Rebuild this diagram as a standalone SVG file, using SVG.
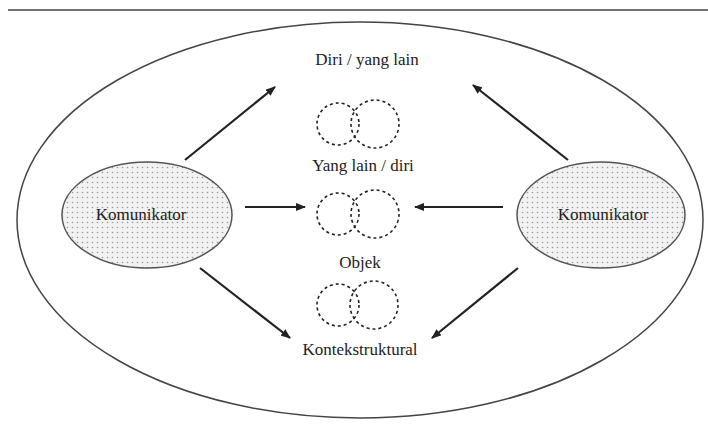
<svg xmlns="http://www.w3.org/2000/svg" width="708" height="429" viewBox="0 0 708 429">
<style>
.lbl{font-family:"Liberation Serif","Times New Roman",serif;font-size:17px;fill:#222;text-anchor:middle}
.dash{fill:none;stroke:#222;stroke-width:1.6;stroke-dasharray:3,3}
.node{fill:url(#dots);stroke:#555;stroke-width:1.5}
.arr{stroke:#222;stroke-width:2.2;fill:none;marker-end:url(#ah)}
</style>
<defs>
<pattern id="dots" width="5" height="5" patternUnits="userSpaceOnUse">
<rect width="5" height="5" fill="#f2f2f2"/>
<circle cx="2.5" cy="2.5" r="0.8" fill="#9a9a9a"/>
</pattern>
<marker id="ah" markerWidth="10" markerHeight="8" refX="9" refY="4" orient="auto" markerUnits="userSpaceOnUse">
<path d="M0,0 L10,4 L0,8 Z" fill="#222"/>
</marker>
</defs>
<rect width="708" height="429" fill="#fff"/>
<line x1="8" y1="10" x2="708" y2="10" stroke="#444" stroke-width="1.5"/>
<g id="outer"><ellipse cx="360" cy="220" rx="343" ry="198" fill="none" stroke="#444" stroke-width="1.5"/></g>
<g id="komunikator-left"><ellipse class="node" cx="147" cy="215" rx="85" ry="53"/><text class="lbl" x="141" y="220">Komunikator</text></g>
<g id="komunikator-right"><ellipse class="node" cx="601" cy="215" rx="84" ry="53"/><text class="lbl" x="603" y="220">Komunikator</text></g>
<g id="diri"><text class="lbl" x="367" y="65">Diri / yang lain</text>
<circle class="dash" cx="338" cy="124" r="21"/><circle class="dash" cx="375" cy="124" r="24"/></g>
<g id="yanglain"><text class="lbl" x="363" y="171">Yang lain / diri</text>
<circle class="dash" cx="338" cy="214" r="21"/><circle class="dash" cx="375" cy="214" r="24"/></g>
<g id="objek"><text class="lbl" x="360" y="268">Objek</text>
<circle class="dash" cx="338" cy="305" r="21"/><circle class="dash" cx="374" cy="305" r="24"/></g>
<g id="konteks"><text class="lbl" x="360" y="355">Kontekstruktural</text></g>
<g id="connectors">
<line class="arr" x1="185" y1="160" x2="275" y2="87"/>
<line class="arr" x1="568" y1="160" x2="473" y2="85"/>
<line class="arr" x1="245" y1="207" x2="305" y2="207"/>
<line class="arr" x1="503" y1="207" x2="415" y2="207"/>
<line class="arr" x1="200" y1="268" x2="290" y2="338"/>
<line class="arr" x1="518" y1="268" x2="432" y2="338"/>
</g>
</svg>
